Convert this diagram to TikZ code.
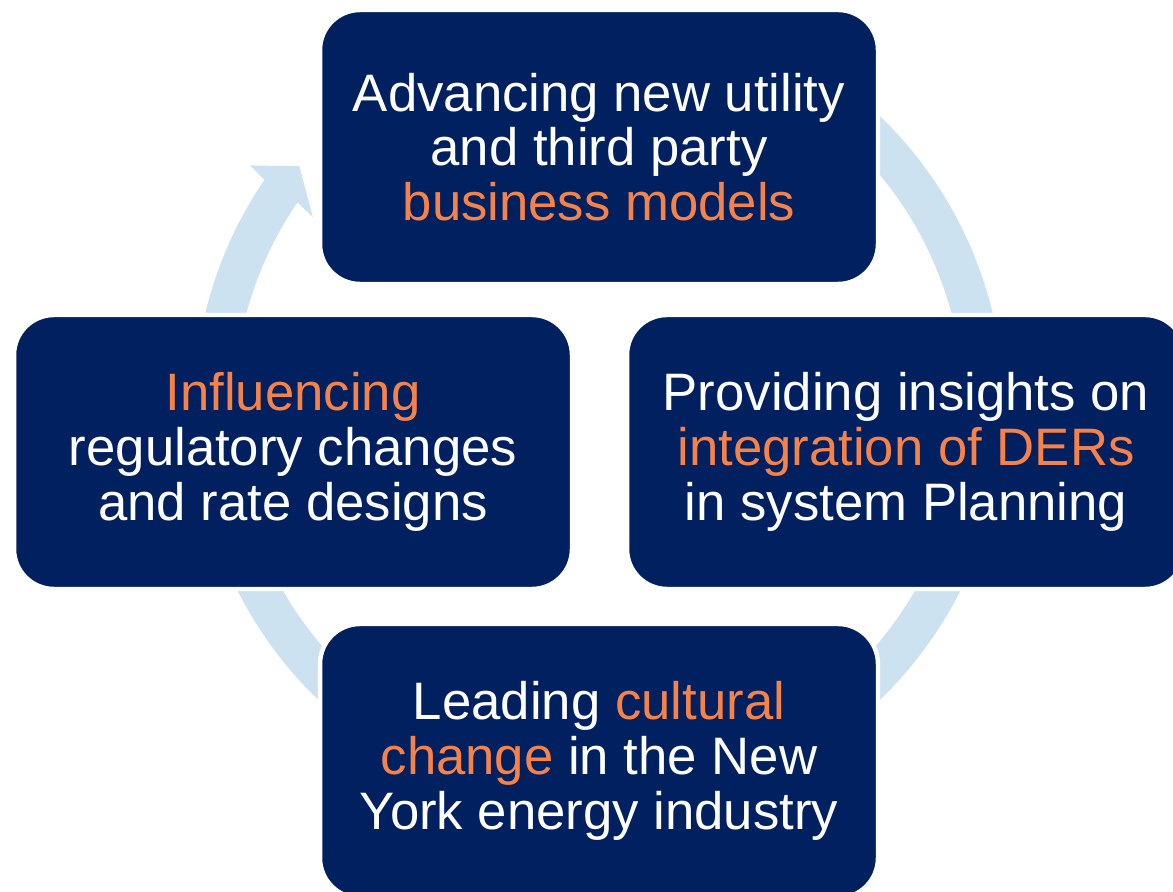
\documentclass[tikz,border=0pt]{standalone}
\usepackage{fontspec}
\setmainfont{Liberation Sans}
\definecolor{navy}{RGB}{0,32,96}
\definecolor{ringblue}{RGB}{204,226,240}
\definecolor{accent}{RGB}{245,130,72}

\begin{document}
\begin{tikzpicture}
  [x=0.02cm,y=0.02cm,
   panel/.style={rectangle,rounded corners=0.8cm,fill=navy,draw=white,line width=2.5pt,
     minimum width=11.16cm,minimum height=5.48cm,align=center,text=white,inner sep=0pt,
     font=\fontsize{30}{31.2}\selectfont}]
  \useasboundingbox (0,0) rectangle (1173,892);
  \clip (0,0) rectangle (1173,892);
  \coordinate (ctr) at (599,484);

  % cycle arrow behind the boxes
  \fill[ringblue,shift={(ctr)}] (60:405) arc[start angle=60,end angle=-214.3,radius=405]
    -- (-214.8:425) -- (-218.9:385) -- (-213.7:344) -- (-214.3:365)
    arc[start angle=-214.3,end angle=60,radius=365] -- cycle;

  \node[panel] (biz) at (599,745) {Advancing new utility\\and third party\\\textcolor{accent}{business models}};
  \node[panel] (reg) at (293,440) {\textcolor{accent}{Influencing}\\regulatory changes\\and rate designs};
  \node[panel] (der) at (906,440) {Providing insights on\\\textcolor{accent}{integration of DERs}\\in system Planning};
  \node[panel] (cult) at (599,131) {Leading \textcolor{accent}{cultural}\\\textcolor{accent}{change} in the New\\York energy industry};

\end{tikzpicture}
\end{document}
